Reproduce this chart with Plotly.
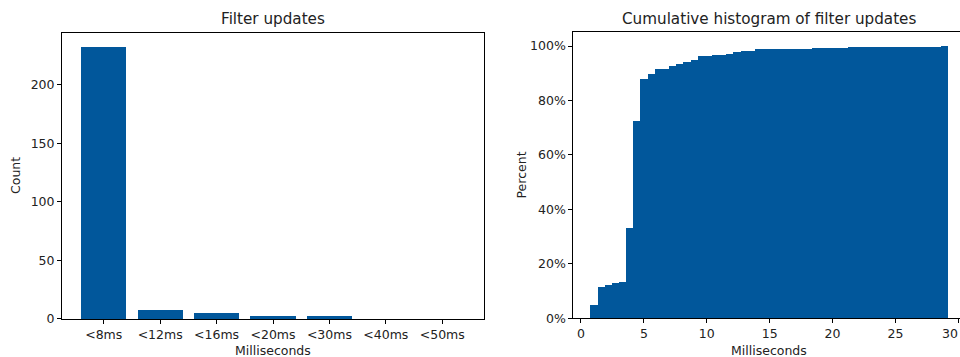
import numpy as np
import plotly.graph_objects as go

# ---- data ----
categories = ["<8ms", "<12ms", "<16ms", "<20ms", "<30ms", "<40ms", "<50ms"]
counts = [233, 8, 5, 3, 3, 0, 0]

hist_start = 0.77   # ms, first bin edge
hist_end = 29.2     # ms, last bin edge
cum_pct = [0.047, 0.112, 0.121, 0.129, 0.133, 0.330, 0.723, 0.877, 0.896, 0.913,
           0.915, 0.926, 0.933, 0.938, 0.947, 0.961, 0.961, 0.964, 0.966, 0.968,
           0.977, 0.979, 0.979, 0.986, 0.986, 0.986, 0.986, 0.986, 0.986, 0.986,
           0.988, 0.991, 0.991, 0.991, 0.991, 0.991, 0.995, 0.995, 0.995, 0.995,
           0.995, 0.995, 0.995, 0.995, 0.995, 0.995, 0.995, 0.995, 0.995, 1.000]
x2_ticks = [0, 5, 10, 15, 20, 25, 30]

BLUE = "#01579b"
FONT = "DejaVu Sans"
W, H = 960, 365
REF_H = 357

edges = np.linspace(hist_start, hist_end, len(cum_pct) + 1)
centers = (edges[:-1] + edges[1:]) / 2
bw = edges[1] - edges[0]

fig = go.Figure()
fig.add_trace(go.Bar(x=list(range(len(categories))), y=counts, width=0.8,
                     marker=dict(color=BLUE, line=dict(width=0)),
                     xaxis="x", yaxis="y", showlegend=False))
fig.add_trace(go.Bar(x=centers, y=cum_pct, width=bw,
                     marker=dict(color=BLUE, line=dict(width=0)),
                     xaxis="x2", yaxis="y2", showlegend=False))

def px_x(p):
    return p / W

def px_y(p):
    return 1 - p / REF_H

tickfont = dict(family=FONT, size=12.5, color="#222")
common = dict(showgrid=False, zeroline=False, showline=True, linecolor="black",
              linewidth=1, ticks="outside", ticklen=4, tickcolor="black",
              tickfont=tickfont)

fig.update_layout(
    width=W, height=H, autosize=False, margin=dict(l=0, r=0, t=0, b=0, pad=0),
    paper_bgcolor="white", plot_bgcolor="white", bargap=0,
    xaxis=dict(domain=[px_x(62), px_x(484)], anchor="y", range=[-0.74, 6.74],
               tickmode="array", tickvals=list(range(len(categories))),
               ticktext=categories, mirror=True, **common),
    yaxis=dict(domain=[px_y(318), px_y(32.5)], anchor="x", range=[0, 244.65],
               tickvals=[0, 50, 100, 150, 200], mirror=True, **common),
    xaxis2=dict(domain=[px_x(573.3), 1.0], anchor="y2", range=[-0.61, 30.13],
                tickvals=x2_ticks, ticktext=[str(t) for t in x2_ticks[:-1]] + [""],
                mirror=True, **common),
    yaxis2=dict(domain=[px_y(317.3), px_y(32.3)], anchor="x2", range=[0, 1.05],
                tickvals=[0, 0.2, 0.4, 0.6, 0.8, 1.0], tickformat=".0%",
                mirror=False, **common),
)

lab = dict(family=FONT, size=12.5, color="#222")
ttl = dict(family=FONT, size=15.2, color="#222")
annos = [
    dict(text="Filter updates", x=px_x(273), y=px_y(19), font=ttl),
    dict(text="Cumulative histogram of filter updates", x=px_x(769), y=px_y(19), font=ttl),
    dict(text="Milliseconds", x=px_x(273), y=px_y(349.5), font=lab),
    dict(text="Milliseconds", x=px_x(769), y=px_y(349.5), font=lab),
    dict(text="Count", x=px_x(15.5), y=px_y(175), font=lab, textangle=-90),
    dict(text="Percent", x=px_x(521), y=px_y(175), font=lab, textangle=-90),
]
for a in annos:
    fig.add_annotation(xref="paper", yref="paper", showarrow=False,
                       xanchor="center", yanchor="middle", **a)
# last x tick label of the right chart, kept inside the page edge
fig.add_annotation(xref="paper", yref="paper", showarrow=False, text=str(x2_ticks[-1]),
                   x=1.0, y=px_y(332.5), xanchor="right", yanchor="middle", font=tickfont)

fig.write_html("out.html", config={"responsive": False})
